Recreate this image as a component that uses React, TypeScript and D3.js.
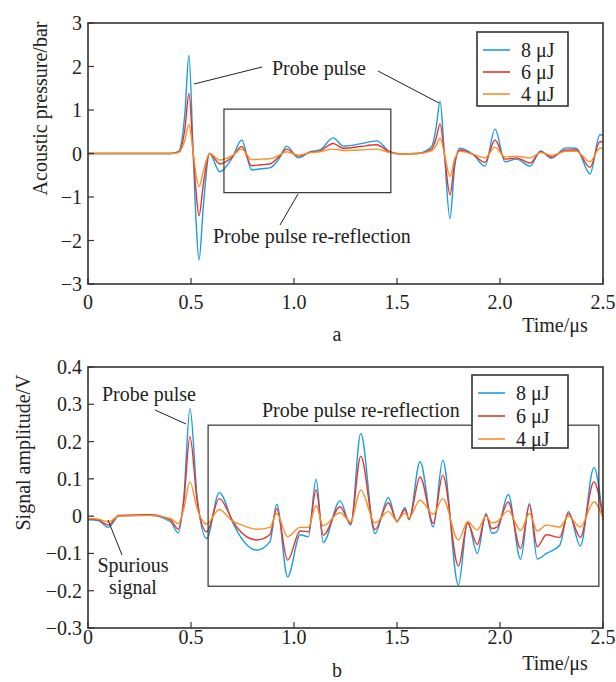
import React from "react";
import * as d3 from "d3";

// ---- data ----
const timeA = [0, 0.4, 0.44, 0.47, 0.49, 0.51, 0.525, 0.539, 0.56, 0.59, 0.64, 0.7, 0.746, 0.795, 0.84, 0.883, 0.93, 0.964, 1.02, 1.08, 1.126, 1.19, 1.24, 1.32, 1.4, 1.466, 1.515, 1.6, 1.668, 1.69, 1.709, 1.73, 1.757, 1.78, 1.806, 1.871, 1.927, 1.976, 2.024, 2.08, 2.146, 2.197, 2.25, 2.32, 2.37, 2.437, 2.485, 2.5];
const pressure8 = [0, 0, 0.05, 0.9, 2.26, 0.1, -1.6, -2.45, -1.2, 0, -0.42, -0.1, 0.31, -0.38, -0.35, -0.33, -0.1, 0.17, -0.1, 0.04, 0.08, 0.36, 0.17, 0.22, 0.29, 0.04, -0.01, 0, 0.16, 0.6, 1.2, 0, -1.5, -0.3, 0.12, -0.03, -0.29, 0.56, -0.19, -0.13, -0.29, 0.06, -0.11, 0.13, 0.12, -0.47, 0.43, 0.42];
const pressure6 = [0, 0, 0.03, 0.55, 1.38, 0.05, -0.9, -1.43, -0.7, 0, -0.24, -0.08, 0.16, -0.28, -0.26, -0.24, -0.06, 0.1, -0.06, 0.03, 0.06, 0.23, 0.12, 0.16, 0.2, 0.03, -0.01, 0, 0.1, 0.35, 0.68, 0, -0.95, -0.2, 0.08, -0.03, -0.2, 0.31, -0.13, -0.1, -0.22, 0.04, -0.08, 0.08, 0.08, -0.32, 0.27, 0.27];
const pressure4 = [0, 0, 0.02, 0.3, 0.66, 0.05, -0.5, -0.76, -0.4, 0, -0.15, -0.05, 0.1, -0.14, -0.13, -0.12, -0.03, 0.04, -0.04, 0.02, 0.04, 0.1, 0.07, 0.08, 0.1, 0.02, -0.01, 0, 0.06, 0.18, 0.35, 0, -0.53, -0.12, 0.05, -0.02, -0.1, 0.14, -0.08, -0.06, -0.1, 0.02, -0.04, 0.05, 0.05, -0.19, 0.12, 0.12];

const timeB = [0, 0.05, 0.099, 0.15, 0.3, 0.4, 0.438, 0.465, 0.495, 0.53, 0.576, 0.637, 0.705, 0.73, 0.819, 0.883, 0.916, 0.969, 1.03, 1.07, 1.107, 1.142, 1.223, 1.275, 1.324, 1.393, 1.458, 1.5, 1.539, 1.558, 1.612, 1.676, 1.722, 1.798, 1.843, 1.89, 1.932, 1.96, 1.984, 2.04, 2.1, 2.143, 2.181, 2.225, 2.29, 2.332, 2.39, 2.456, 2.5];
const signal8 = [-0.01, -0.012, -0.03, 0, 0.002, -0.015, -0.045, 0.05, 0.289, 0.05, -0.06, 0.063, -0.02, -0.046, -0.091, -0.069, 0.032, -0.163, -0.05, -0.055, 0.099, -0.071, 0.041, -0.024, 0.222, -0.047, 0.05, -0.015, 0.023, -0.01, 0.146, -0.029, 0.15, -0.185, -0.015, -0.1, 0.007, -0.046, -0.042, 0.058, -0.116, 0.034, -0.115, -0.1, -0.078, 0.012, -0.08, 0.13, -0.01];
const signal6 = [-0.008, -0.01, -0.024, 0.002, 0.004, -0.01, -0.035, 0.04, 0.213, 0.04, -0.042, 0.047, -0.015, -0.035, -0.064, -0.05, 0.02, -0.118, -0.04, -0.042, 0.07, -0.051, 0.025, -0.02, 0.161, -0.036, 0.036, -0.013, 0.018, -0.008, 0.105, -0.019, 0.11, -0.134, -0.019, -0.076, 0.003, -0.033, -0.03, 0.038, -0.087, 0.03, -0.082, -0.05, -0.057, 0.007, -0.057, 0.092, -0.005];
const signal4 = [-0.006, -0.008, -0.015, 0, 0.002, -0.006, -0.02, 0.02, 0.092, 0.02, -0.021, 0.018, -0.015, -0.02, -0.035, -0.03, 0.007, -0.055, -0.03, -0.03, 0.028, -0.026, 0.009, -0.015, 0.07, -0.018, 0.012, -0.012, 0.008, -0.005, 0.043, 0.005, 0.047, -0.064, -0.015, -0.037, 0, -0.018, -0.015, 0.014, -0.038, 0.007, -0.04, -0.024, -0.029, 0, -0.029, 0.038, -0.005];

const seriesNames = ["8 μJ", "6 μJ", "4 μJ"];
const seriesColors = ["#1a9ddf", "#e8332c", "#f6922a"];
const xTicks = [0, 0.5, 1.0, 1.5, 2.0, 2.5];
const yTicksA = [-3, -2, -1, 0, 1, 2, 3];
const yTicksB = [-0.3, -0.2, -0.1, 0, 0.1, 0.2, 0.3, 0.4];

const FONT = "'Liberation Serif', 'Times New Roman', serif";
const INK = "#333";

const fmtY = (v: number) => (v < 0 ? "−" + Math.abs(v) : String(v));

function Panel({ top, bottom, yDomain, yTicks, time, series, yLabel, yLabelX, tickGap, legend, children }: any) {
  const x = d3.scaleLinear().domain([0, 2.5]).range([88, 603]);
  const y = d3.scaleLinear().domain(yDomain).range([bottom, top]);
  const line = d3.line<number>()
    .x((_, i) => x(time[i]))
    .y((d) => y(d))
    .curve(d3.curveMonotoneX);

  return (
    <g>
      <g>
        {series.map((s: number[], i: number) => (
          <path key={i} d={line(s) || ""} fill="none" stroke={seriesColors[i]} strokeWidth={1.4} />
        ))}
      </g>
      {children(x, y)}
      {/* frame */}
      <rect x={88} y={top} width={603 - 88} height={bottom - top} fill="none" stroke={INK} strokeWidth={1.6} />
      {yTicks.map((t: number) => (
        <g key={"y" + t}>
          <line x1={88} x2={94} y1={y(t)} y2={y(t)} stroke={INK} strokeWidth={1.2} />
          <text x={82} y={y(t)} dy="0.35em" textAnchor="end" fontSize={20} fontFamily={FONT} fill="#222">{fmtY(t)}</text>
        </g>
      ))}
      {xTicks.map((t) => (
        <g key={"x" + t}>
          <line x1={x(t)} x2={x(t)} y1={bottom} y2={bottom - 6} stroke={INK} strokeWidth={1.2} />
          <text x={x(t)} y={bottom + tickGap} textAnchor="middle" fontSize={20} fontFamily={FONT} fill="#222">{t === 0 ? "0" : t.toFixed(1)}</text>
        </g>
      ))}
      <text transform={`translate(${yLabelX},${(top + bottom) / 2 - 45}) rotate(-90)`} textAnchor="middle" fontSize={20} fontFamily={FONT} fill="#222">{yLabel}</text>
      {/* legend */}
      <rect x={legend.x} y={legend.y} width={legend.w} height={legend.h} fill="white" stroke={INK} strokeWidth={1.6} />
      {seriesNames.map((n, i) => (
        <g key={n}>
          <line x1={legend.x + 6} x2={legend.x + 33} y1={legend.y + 18 + i * legend.step} y2={legend.y + 18 + i * legend.step} stroke={seriesColors[i]} strokeWidth={1.6} />
          <text x={legend.x + 44} y={legend.y + 18 + i * legend.step} dy="0.35em" fontSize={20} fontFamily={FONT} fill="#222">{n}</text>
        </g>
      ))}
    </g>
  );
}

export default function App() {
  const txt = { fontSize: 20, fontFamily: FONT, fill: "#222" } as any;
  return (
    <svg width={616} height={682} style={{ position: "absolute", left: 0, top: 0, background: "white" }}>
      <Panel
        top={23} bottom={284} yDomain={[-3, 3]} yTicks={yTicksA} time={timeA}
        series={[pressure8, pressure6, pressure4]} yLabel="Acoustic pressure/bar" yLabelX={47} tickGap={25}
        legend={{ x: 477, y: 32, w: 91, h: 74, step: 22 }}
      >
        {(x: any, y: any) => (
          <g>
            <rect x={x(0.66)} y={y(1.02)} width={x(1.47) - x(0.66)} height={y(-0.9) - y(1.02)} fill="none" stroke={INK} strokeWidth={1.2} />
            <line x1={194} y1={84} x2={262} y2={67} stroke="#222" strokeWidth={1} />
            <line x1={378} y1={71} x2={439} y2={103} stroke="#222" strokeWidth={1} />
            <text x={272} y={75} {...txt}>Probe pulse</text>
            <line x1={298} y1={194} x2={280} y2={225} stroke="#222" strokeWidth={1} />
            <text x={213} y={243} {...txt}>Probe pulse re-reflection</text>
          </g>
        )}
      </Panel>
      <text x={555} y={332} textAnchor="middle" {...txt}>Time/μs</text>
      <text x={337} y={341} textAnchor="middle" {...txt}>a</text>

      <Panel
        top={367} bottom={628} yDomain={[-0.3, 0.4]} yTicks={yTicksB} time={timeB}
        series={[signal8, signal6, signal4]} yLabel="Signal amplitude/V" yLabelX={30} tickGap={16}
        legend={{ x: 472, y: 375, w: 96, h: 73, step: 23 }}
      >
        {(x: any, y: any) => (
          <g>
            <rect x={x(0.583)} y={y(0.244)} width={x(2.48) - x(0.583)} height={y(-0.188) - y(0.244)} fill="none" stroke={INK} strokeWidth={1.2} />
            <text x={102} y={401} {...txt}>Probe pulse</text>
            <line x1={155} y1={410} x2={186} y2={424} stroke="#222" strokeWidth={1} />
            <text x={262} y={417} {...txt}>Probe pulse re-reflection</text>
            <line x1={108} y1={520} x2={122} y2={555} stroke="#222" strokeWidth={1} />
            <text x={133} y={572} textAnchor="middle" {...txt}>Spurious</text>
            <text x={133} y={594} textAnchor="middle" {...txt}>signal</text>
          </g>
        )}
      </Panel>
      <text x={555} y={670} textAnchor="middle" {...txt}>Time/μs</text>
      <text x={337} y={677} textAnchor="middle" {...txt}>b</text>
    </svg>
  );
}
